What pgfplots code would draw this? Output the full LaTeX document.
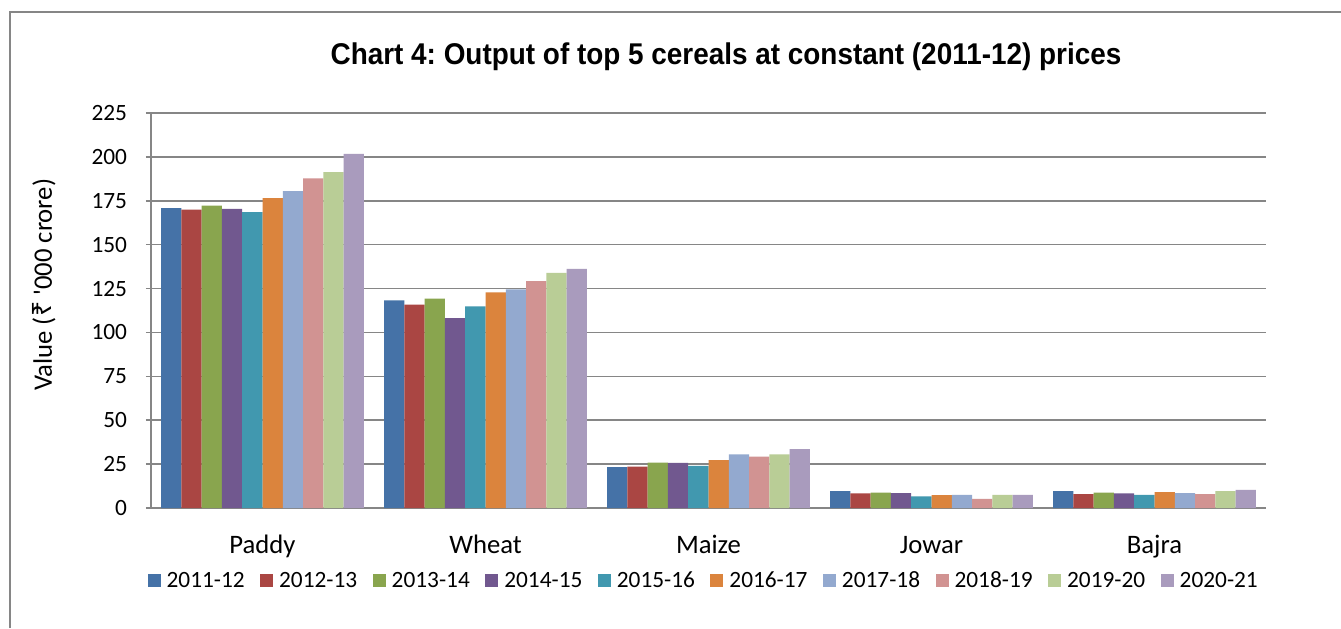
\documentclass[border=0pt]{standalone}
\usepackage{fontspec}
\setmainfont{Carlito}
\newfontfamily\plainfont{Carlito}
\newfontfamily\titlefont{Liberation Sans}
\newfontfamily\rupeefont{Noto Sans}
\usepackage{pgfplots}
\usepackage{pgfplotstable}
\pgfplotsset{compat=1.18}
\definecolor{c1}{HTML}{4572A7}
\definecolor{c2}{HTML}{AA4643}
\definecolor{c3}{HTML}{89A54E}
\definecolor{c4}{HTML}{71588F}
\definecolor{c5}{HTML}{4198AF}
\definecolor{c6}{HTML}{DB843D}
\definecolor{c7}{HTML}{93A9CF}
\definecolor{c8}{HTML}{D19392}
\definecolor{c9}{HTML}{B9CD96}
\definecolor{c10}{HTML}{A99BBD}
\definecolor{gridc}{HTML}{868686}
\pgfplotstableread{
x a b c d e f g h i j
0 170.8 169.9 172.3 170.4 168.5 176.5 180.5 187.7 191.3 201.7
1 118.2 115.9 119.2 108.1 114.8 122.8 124.6 129.2 134.0 136.2
2 23.3 23.5 25.9 25.7 24.0 27.2 30.6 29.3 30.5 33.5
3 9.6 8.3 8.8 8.5 6.6 7.3 7.5 5.2 7.5 7.5
4 9.6 7.9 8.8 8.3 7.5 9.1 8.5 7.9 9.6 10.3
}\cereals
\begin{document}
\frenchspacing
\begin{tikzpicture}[x=1pt,y=1pt]
\useasboundingbox (0,0) rectangle (1005.75,471);
\fill[white] (0,0) rectangle (1005.75,471);
\draw[line width=1.1pt, color=gridc] (7.5,0) -- (7.5,462) -- (1005.75,462);
\node[font=\titlefont\bfseries\fontsize{22.5}{26}\selectfont, xscale=0.93] at (544.5,428.25) {Chart 4: Output of top 5 cereals at constant (2011-12) prices};
\begin{axis}[
  at={(113.25pt,90pt)}, anchor=south west,
  scale only axis, width=836.25pt, height=296.25pt,
  xmin=-0.5, xmax=4.5, ymin=0, ymax=225,
  ytick={0,25,...,225},
  xtick={0,...,4}, xticklabels={Paddy,Wheat,Maize,Jowar,Bajra},
  /pgf/number format/assume math mode=true,
  ybar=0pt, bar width=0.0909,
  axis x line*=bottom, axis y line*=left,
  axis line style={-, draw=gridc, line width=1.1pt},
  ymajorgrids, grid style={gridc, line width=1.1pt},
  tick align=outside, major tick length=3.75pt,
  ytick style={draw=gridc, line width=1.1pt},
  xtick style={draw=none},
  yticklabel style={font=\fontsize{17.5}{20}\selectfont, inner sep=0pt, xshift=-14pt},
  xticklabel style={font=\fontsize{20}{23}\selectfont, inner sep=0pt, anchor=base, yshift=-30pt},
  ylabel={Value ({\rupeefont ₹} {\plainfont '}000 crore)},
  ylabel style={at={(axis description cs:-0.096,0.565)}, anchor=center, font=\fontsize{20}{23}\selectfont},
  legend columns=10,
  legend style={at={(-0.0033,-0.1848)}, anchor=west, draw=none, fill=none, inner sep=0pt,
    font=\fontsize{17.5}{20}\selectfont, nodes={inner sep=0pt},
    /tikz/every odd column/.append style={column sep=4.5pt},
    /tikz/every even column/.append style={column sep=11.6pt}},
  sq/.style={fill=#1, draw=none, legend image code/.code={\fill[#1] (0pt,-4.875pt) rectangle (9.75pt,4.875pt);}},
]
\addplot[sq=c1] table[x=x,y=a]{\cereals};
\addplot[sq=c2] table[x=x,y=b]{\cereals};
\addplot[sq=c3] table[x=x,y=c]{\cereals};
\addplot[sq=c4] table[x=x,y=d]{\cereals};
\addplot[sq=c5] table[x=x,y=e]{\cereals};
\addplot[sq=c6] table[x=x,y=f]{\cereals};
\addplot[sq=c7] table[x=x,y=g]{\cereals};
\addplot[sq=c8] table[x=x,y=h]{\cereals};
\addplot[sq=c9] table[x=x,y=i]{\cereals};
\addplot[sq=c10] table[x=x,y=j]{\cereals};
\legend{2011-12,2012-13,2013-14,2014-15,2015-16,2016-17,2017-18,2018-19,2019-20,2020-21}
\end{axis}
\end{tikzpicture}
\end{document}
